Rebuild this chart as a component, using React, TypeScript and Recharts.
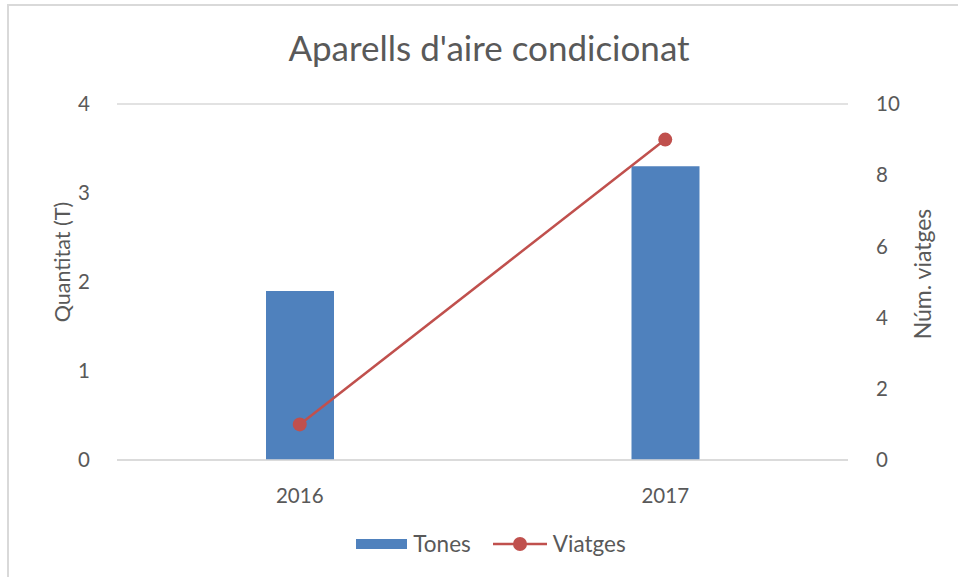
import React from "react";
import { ComposedChart, Bar, Line, XAxis, YAxis, CartesianGrid, Legend } from "recharts";

const years = ["2016", "2017"];
const tones = [1.9, 3.3];
const viatges = [1, 9];
const leftTicks = [0, 1, 2, 3, 4];
const rightTicks = [0, 2, 4, 6, 8, 10];

const data = years.map((year, i) => ({ year, tones: tones[i], viatges: viatges[i] }));

const FONT = "Lato, 'Open Sans', sans-serif";
const GREY = "#595959";
const BLUE = "#4f81bd";
const RED = "#c0504d";

const LegendBox = () => (
    <div style={{ display: "flex", justifyContent: "center", alignItems: "center", height: 57, fontFamily: FONT, fontSize: 22.5, color: GREY }}>
        <div style={{ display: "flex", alignItems: "center", marginTop: -10, marginLeft: 24 }}>
            <span style={{ display: "inline-block", width: 51, height: 10, background: BLUE, marginRight: 6 }} />
            <span>Tones</span>
            <svg width={54} height={16} style={{ marginLeft: 22, marginRight: 6 }}>
                <line x1={0} y1={8} x2={54} y2={8} stroke={RED} strokeWidth={2.5} />
                <circle cx={27} cy={8} r={7} fill={RED} />
            </svg>
            <span>Viatges</span>
        </div>
    </div>
);

export default function App() {
    return (
        <div style={{ position: "absolute", left: 0, top: 0, width: 958, height: 577, background: "#fff" }}>
            <div style={{ position: "absolute", left: 7, top: 4, right: 0, bottom: 0, borderLeft: "2px solid #d9d9d9", borderTop: "2px solid #d9d9d9" }} />
            <div style={{ position: "absolute", left: 0, top: 26, width: 978, textAlign: "center", fontFamily: FONT, fontSize: 35, color: GREY }}>
                Aparells d'aire condicionat
            </div>
            <div style={{ position: "absolute", left: 0, top: 0 }}>
                <ComposedChart width={958} height={577} data={data} margin={{ top: 104, right: 0, bottom: 0, left: 0 }}>
                    <CartesianGrid vertical={false} stroke="#d9d9d9" strokeWidth={1.5} />
                    <XAxis
                        dataKey="year"
                        height={60}
                        axisLine={{ stroke: "#d9d9d9", strokeWidth: 1.5 }}
                        tickLine={false}
                        tickMargin={22}
                        tick={{ fontSize: 20.5, fill: GREY, fontFamily: FONT }}
                    />
                    <YAxis
                        yAxisId="left"
                        width={117}
                        domain={[0, 4]}
                        ticks={leftTicks}
                        axisLine={false}
                        tickLine={false}
                        tickMargin={21}
                        tick={{ fontSize: 20.5, fill: GREY, fontFamily: FONT }}
                        label={{ value: "Quantitat (T)", angle: -90, position: "center", dx: 4, dy: -20, fontSize: 21.5, fill: GREY, fontFamily: FONT }}
                    />
                    <YAxis
                        yAxisId="right"
                        orientation="right"
                        width={110}
                        domain={[0, 10]}
                        ticks={rightTicks}
                        axisLine={false}
                        tickLine={false}
                        tickMargin={22}
                        tick={{ fontSize: 20.5, fill: GREY, fontFamily: FONT }}
                        label={{ value: "Núm. viatges", angle: -90, position: "center", dx: 20, dy: -8, fontSize: 23, fill: GREY, fontFamily: FONT }}
                    />
                    <Legend verticalAlign="bottom" height={57} content={<LegendBox />} />
                    <Bar yAxisId="left" dataKey="tones" name="Tones" fill={BLUE} barSize={68} isAnimationActive={false} />
                    <Line
                        yAxisId="right"
                        dataKey="viatges"
                        name="Viatges"
                        stroke={RED}
                        strokeWidth={2.5}
                        dot={{ r: 7, fill: RED, stroke: RED, strokeWidth: 0 }}
                        activeDot={false}
                        isAnimationActive={false}
                    />
                </ComposedChart>
            </div>
        </div>
    );
}
